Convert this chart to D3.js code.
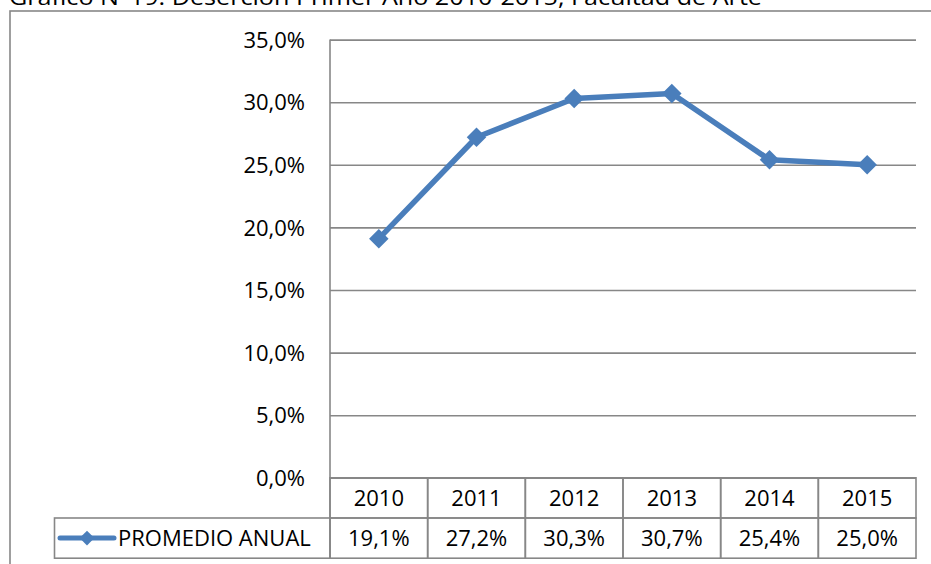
<html>
<head>
<meta charset="utf-8">
<script src="https://d3js.org/d3.v7.min.js"></script>
<style>
  body { margin: 0; background: #fff; }
  svg text { font-family: "Open Sans", "Noto Sans", sans-serif; fill: #000; }
  .grid line { stroke: #878787; stroke-width: 1.6; }
  .grid .domain { display: none; }
  .cell { fill: none; stroke: #878787; stroke-width: 1.6; }
</style>
</head>
<body>
<svg id="chart" width="931" height="564"></svg>
<script>
// data
var years = ["2010", "2011", "2012", "2013", "2014", "2015"];
var promedio = [19.1, 27.2, 30.3, 30.7, 25.4, 25.0];
var yTicks = [0, 5, 10, 15, 20, 25, 30, 35];
var seriesName = "PROMEDIO ANUAL";
var title = "Gráfico N°19: Deserción Primer Año 2010-2015, Facultad de Arte";

var svg = d3.select("#chart");
var plotLeft = 330, plotRight = 916, plotTop = 39.6, plotBottom = 477.8;
var rowH = 40.2, legendLeft = 54.5;
var blue = "#4a7ebb";

function pct(v) { return v.toFixed(1).replace(".", ",") + "%"; }

var x = d3.scaleBand().domain(years).range([plotLeft, plotRight]);
var y = d3.scaleLinear().domain([0, 35]).range([plotBottom, plotTop]);

// outer frame (runs past the visible page on the right and bottom)
svg.append("rect")
  .attr("x", 10).attr("y", 11)
  .attr("width", 940).attr("height", 580)
  .attr("fill", "none").attr("stroke", "#878787").attr("stroke-width", 1.6);

// title sits above the frame and is clipped at the top, as in the source
svg.append("text")
  .attr("x", 9).attr("y", 5)
  .attr("font-size", 22)
  .attr("textLength", 753).attr("lengthAdjust", "spacingAndGlyphs")
  .text(title);

// gridlines + tick labels
var yAxis = svg.append("g")
  .attr("class", "grid")
  .attr("transform", "translate(" + plotLeft + ",0)")
  .call(d3.axisLeft(y).tickValues(yTicks).tickSize(-(plotRight - plotLeft)).tickFormat(pct));
yAxis.selectAll("text")
  .attr("x", -25)
  .attr("font-size", 22)
  .attr("dy", "0.35em")
  .style("font-family", "'Open Sans', sans-serif")
  .attr("fill", "#000");

// vertical axis line down through the table
svg.append("line")
  .attr("x1", plotLeft).attr("x2", plotLeft)
  .attr("y1", plotTop).attr("y2", plotBottom + 2 * rowH)
  .attr("stroke", "#878787").attr("stroke-width", 1.6);

// data table
var table = svg.append("g");
years.forEach(function (yr, i) {
  table.append("rect").attr("class", "cell")
    .attr("x", x(yr)).attr("y", plotBottom)
    .attr("width", x.bandwidth()).attr("height", rowH);
  table.append("rect").attr("class", "cell")
    .attr("x", x(yr)).attr("y", plotBottom + rowH)
    .attr("width", x.bandwidth()).attr("height", rowH);
  table.append("text")
    .attr("x", x(yr) + x.bandwidth() / 2).attr("y", plotBottom + rowH / 2)
    .attr("dy", "0.35em").attr("text-anchor", "middle").attr("font-size", 22)
    .text(yr);
  table.append("text")
    .attr("x", x(yr) + x.bandwidth() / 2).attr("y", plotBottom + rowH * 1.5)
    .attr("dy", "0.35em").attr("text-anchor", "middle").attr("font-size", 22)
    .text(pct(promedio[i]));
});
table.append("rect").attr("class", "cell")
  .attr("x", legendLeft).attr("y", plotBottom + rowH)
  .attr("width", plotLeft - legendLeft).attr("height", rowH);

// legend key
var ly = plotBottom + rowH * 1.5;
table.append("line")
  .attr("x1", 60).attr("x2", 114).attr("y1", ly).attr("y2", ly)
  .attr("stroke", blue).attr("stroke-width", 5).attr("stroke-linecap", "round");
table.append("path")
  .attr("d", d3.symbol(d3.symbolSquare, 110)())
  .attr("transform", "translate(87," + ly + ") rotate(45)")
  .attr("fill", blue);
table.append("text")
  .attr("x", 118).attr("y", ly).attr("dy", "0.35em").attr("font-size", 22)
  .text(seriesName);

// series
var cx = function (d, i) { return x(years[i]) + x.bandwidth() / 2; };
svg.append("path")
  .datum(promedio)
  .attr("d", d3.line().x(cx).y(function (d) { return y(d); }))
  .attr("fill", "none").attr("stroke", blue).attr("stroke-width", 5.5)
  .attr("stroke-linejoin", "round");
svg.selectAll(".pt")
  .data(promedio)
  .enter().append("path")
  .attr("class", "pt")
  .attr("d", d3.symbol(d3.symbolSquare, 190)())
  .attr("transform", function (d, i) { return "translate(" + cx(d, i) + "," + y(d) + ") rotate(45)"; })
  .attr("fill", blue);
</script>
</body>
</html>
